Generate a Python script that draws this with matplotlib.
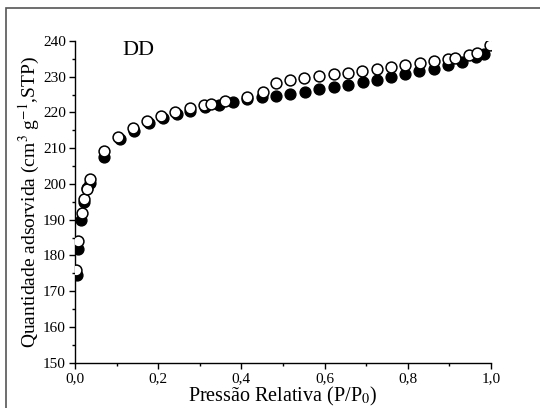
import matplotlib
matplotlib.use("Agg")
import matplotlib.pyplot as plt
from matplotlib.ticker import MultipleLocator, FuncFormatter
from matplotlib.patches import Rectangle

# Adsorption (filled)
ads_x = [0.005, 0.008, 0.014, 0.022, 0.030, 0.035, 0.069, 0.107, 0.143, 0.179, 0.211,
         0.244, 0.277, 0.312, 0.346, 0.381, 0.413, 0.450, 0.483, 0.518, 0.553, 0.587,
         0.622, 0.657, 0.692, 0.725, 0.760, 0.794, 0.828, 0.862, 0.897, 0.931, 0.965, 0.983]
ads_y = [174.5, 181.8, 190.0, 195.0, 199.0, 200.3, 207.6, 212.5, 214.9, 217.0, 218.5,
         219.5, 220.4, 221.5, 222.2, 222.9, 223.8, 224.2, 224.7, 225.3, 225.8, 226.5,
         227.1, 227.7, 228.5, 229.1, 229.9, 230.7, 231.7, 232.3, 233.2, 234.2, 235.4, 236.4]

# Desorption (open)
des_x = [0.003, 0.008, 0.016, 0.022, 0.028, 0.035, 0.070, 0.104, 0.139, 0.172, 0.207,
         0.241, 0.276, 0.311, 0.327, 0.361, 0.413, 0.451, 0.483, 0.518, 0.551, 0.587,
         0.622, 0.657, 0.691, 0.725, 0.760, 0.794, 0.829, 0.863, 0.897, 0.913, 0.947,
         0.967, 0.998]
des_y = [176.0, 184.0, 191.8, 195.8, 198.6, 201.3, 209.1, 213.1, 215.7, 217.6, 219.1,
         220.2, 221.2, 222.1, 222.4, 223.2, 224.4, 225.6, 228.2, 229.1, 229.6, 230.1,
         230.7, 231.1, 231.7, 232.2, 232.7, 233.4, 233.9, 234.3, 235.1, 235.3, 236.0,
         236.6, 238.8]

plt.rcParams['font.family'] = ['Liberation Serif', 'DejaVu Serif']
plt.rcParams['mathtext.fontset'] = 'stix'

fig = plt.figure(figsize=(5.4, 4.08), dpi=100)
ax = fig.add_axes([75/540, 1-362.7/408, (491-75)/540, (362.7-41)/408])

ax.plot(ads_x, ads_y, 'o', ms=7.8, mfc='black', mec='black', mew=1.0, zorder=3)
ax.plot(des_x, des_y, 'o', ms=7.8, mfc='white', mec='black', mew=1.1, zorder=4)

ax.set_xlim(0, 1.0)
ax.set_ylim(150, 240)
ax.spines['top'].set_visible(False)
ax.spines['right'].set_visible(False)
for s in ('left', 'bottom'):
    ax.spines[s].set_linewidth(1.0)

ax.xaxis.set_major_locator(MultipleLocator(0.2))
ax.xaxis.set_minor_locator(MultipleLocator(0.1))
ax.yaxis.set_major_locator(MultipleLocator(10))
ax.yaxis.set_minor_locator(MultipleLocator(5))
ax.xaxis.set_major_formatter(FuncFormatter(lambda v, p: f"{v:.1f}".replace('.', ',')))
ax.tick_params(which='major', direction='out', length=4, width=1.0, labelsize=11, pad=2.5)
ax.tick_params(which='minor', direction='out', length=2.5, width=1.0)

ax.set_xlabel("Pressão Relativa (P/P$_0$)", fontsize=14.5, labelpad=0)
ax.set_ylabel("Quantidade adsorvida (cm$^3$ g$^{-1}$,STP)", fontsize=14, labelpad=1)

ax.text(0.115, 0.97, "DD", transform=ax.transAxes, fontsize=16, ha='left', va='center')

fig.patches.append(Rectangle((6/540, -0.05), 1.2, 1-8/408+0.05, transform=fig.transFigure,
                             fill=False, edgecolor='#555555', linewidth=1.2))

fig.savefig("out.png", dpi=100)
